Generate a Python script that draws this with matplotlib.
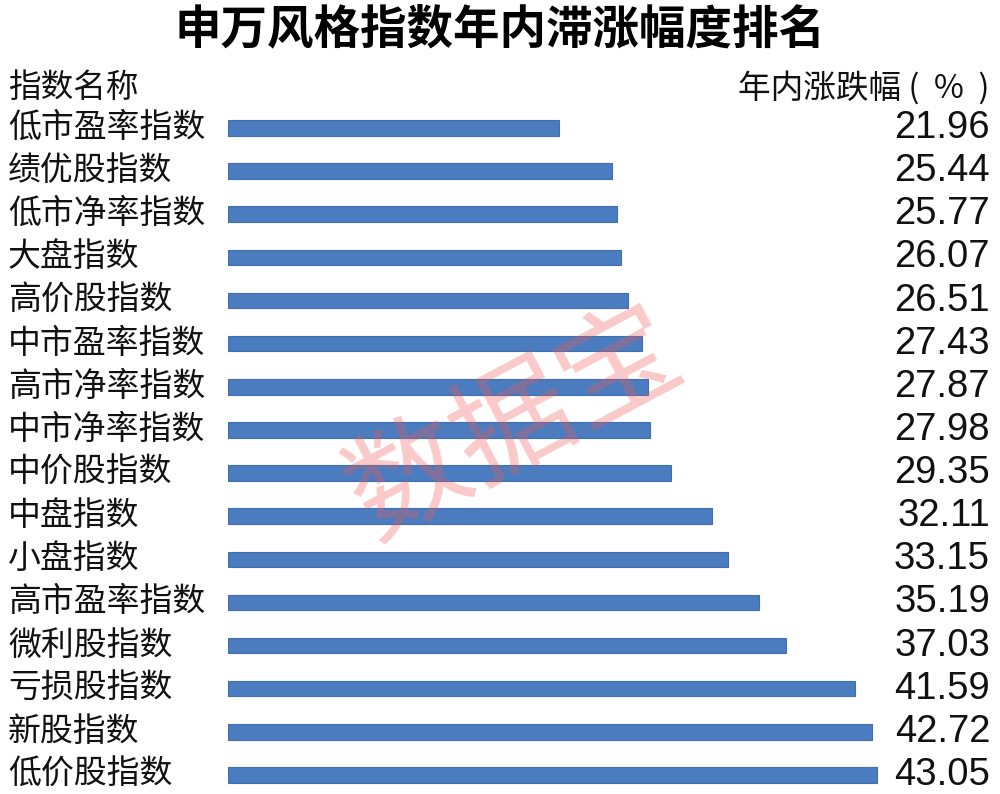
import matplotlib
matplotlib.use("Agg")
import matplotlib.pyplot as plt
from matplotlib.transforms import blended_transform_factory

plt.rcParams['font.family'] = ['Noto Sans CJK SC', 'DejaVu Sans']

names = ["低市盈率指数", "绩优股指数", "低市净率指数", "大盘指数", "高价股指数",
         "中市盈率指数", "高市净率指数", "中市净率指数", "中价股指数", "中盘指数",
         "小盘指数", "高市盈率指数", "微利股指数", "亏损股指数", "新股指数", "低价股指数"]
values = [21.96, 25.44, 25.77, 26.07, 26.51, 27.43, 27.87, 27.98, 29.35, 32.11,
          33.15, 35.19, 37.03, 41.59, 42.72, 43.05]

W, H = 1000, 794
fig = plt.figure(figsize=(W / 100, H / 100), dpi=100)
fig.patch.set_facecolor("white")

px_per_unit = 15.08
ax_left = 228
ax_top = 106
ax_bottom = 794
ax = fig.add_axes([ax_left / W, 0, (W - ax_left) / W, (ax_bottom - ax_top) / H])
ax.set_xlim(0, (W - ax_left) / px_per_unit)
row_px = 43.13
top_off = (128 - ax_top) / row_px
ax.set_ylim(-top_off + (ax_bottom - ax_top) / row_px, -top_off)
ax.axis("off")

ypos = list(range(len(names)))
ax.barh(ypos, values, height=0.36, color="#4a7cbf", edgecolor="#3f6fae", linewidth=0.8, zorder=2)

tr = blended_transform_factory(fig.transFigure, ax.transData)
for y, n, v in zip(ypos, names, values):
    ax.text(8 / W, y, n, transform=tr, ha="left", va="center", fontsize=23.7, color="#111111")
    ax.text(990 / W, y, f"{v:.2f}", transform=tr, ha="right", va="center", fontsize=27.5,
            family=["Liberation Sans", "DejaVu Sans"], color="#111111")

fig.text(0.5, 1 - 30 / H, "申万风格指数年内滞涨幅度排名", ha="center", va="center",
         fontsize=33.5, fontweight="bold", color="#000000")
fig.text(8 / W, 1 - 88 / H, "指数名称", ha="left", va="center", fontsize=23.5, color="#111111")
fig.text(990 / W, 1 - 88 / H, "年内涨跌幅 (  %  )", ha="right", va="center", fontsize=23.5, color="#111111")

fig.text(515 / W, 1 - 425 / H, "数据宝", ha="center", va="center", fontsize=86,
         rotation=28, color="#ee5a55", alpha=0.32, zorder=5)

fig.savefig("out.png", dpi=100, facecolor="white")
